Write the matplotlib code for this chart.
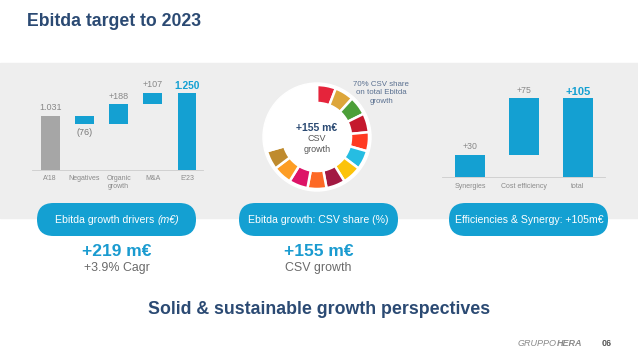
import matplotlib
matplotlib.use("Agg")
import matplotlib.pyplot as plt
from matplotlib.patches import Rectangle, FancyBboxPatch, Circle

plt.rcParams['font.family'] = ['Liberation Sans', 'DejaVu Sans']

# waterfall: ebitda growth drivers (m€)
wf_labels = ["A'18", "Negatives", "Organic\ngrowth", "M&A", "E'23"]
wf_values = [1031, -76, 188, 107, 1250]
wf_texts = ["1.031", "(76)", "+188", "+107", "1.250"]

# efficiencies & synergy (m€)
eff_labels = ["Synergies", "Cost efficiency", "total"]
eff_values = [30, 75, 105]
eff_texts = ["+30", "+75", "+105"]

# SDG ring: goals touched by CSV growth out of 17
sdg_colors = ['#E5243B', '#DDA63A', '#4C9F38', '#C5192D', '#FF3A21', '#26BDE2',
              '#FCC30B', '#A21942', '#FD6925', '#DD1367', '#FD9D24', '#BF8B2E']
total_goals = 17

pill_texts = ["Ebitda growth drivers ", "Ebitda growth: CSV share (%)", "Efficiencies & Synergy: +105m€"]

W, H = 638, 359
NAVY = '#2b4a73'
BLUE = '#14a0d2'
GREY = '#8a8a8a'


def px_rect(x0, y0, x1, y1):
    return [x0 / W, 1 - y1 / H, (x1 - x0) / W, (y1 - y0) / H]


fig = plt.figure(figsize=(W / 100, H / 100), dpi=100)
bg = fig.add_axes([0, 0, 1, 1])
bg.set_xlim(0, W)
bg.set_ylim(H, 0)
bg.axis('off')

bg.add_patch(Rectangle((0, 63), W, 155, color='#eeeeee', zorder=0))
bg.text(27, 22, "Ebitda target to 2023", fontsize=12.7, fontweight='bold', color=NAVY, va='center')

# --- waterfall
ax = fig.add_axes(px_rect(32, 80, 203, 170))
ax.patch.set_alpha(0)
bottoms, heights = [], []
level = 0
for i, v in enumerate(wf_values):
    if i == 0 or i == len(wf_values) - 1:
        bottoms.append(0)
        heights.append(v)
        level = v
    else:
        bottoms.append(min(level, level + v))
        heights.append(abs(v))
        level += v
colors = ['#a6a6a6'] + [BLUE] * (len(wf_values) - 1)
x = list(range(len(wf_values)))
ax.bar(x, heights, bottom=bottoms, width=0.55, color=colors)
ax.set_ylim(520, 1370)
ax.set_xlim(-0.53, 4.47)
for i, t in enumerate(wf_texts):
    top = bottoms[i] + heights[i]
    if wf_values[i] < 0:
        ax.annotate(t, (i, bottoms[i]), xytext=(0, -3), textcoords='offset points',
                    ha='center', va='top', fontsize=6.5, color='#777777')
    elif i == len(wf_texts) - 1:
        ax.annotate(t, (i, top), xytext=(0, 1), textcoords='offset points',
                    ha='center', va='bottom', fontsize=7.4, fontweight='bold', color=BLUE)
    else:
        ax.annotate(t, (i, top), xytext=(0, 2.5), textcoords='offset points',
                    ha='center', va='bottom', fontsize=6.5, color='#888888')
ax.set_xticks(x, wf_labels)
ax.tick_params(axis='x', length=0, labelsize=5, colors=GREY, pad=3.5)
ax.set_yticks([])
for s in ['top', 'left', 'right']:
    ax.spines[s].set_visible(False)
ax.spines['bottom'].set_color('#cccccc')
ax.spines['bottom'].set_linewidth(0.6)

# --- SDG donut
dax = fig.add_axes(px_rect(262, 82, 372, 192))
dax.add_patch(Circle((0, 0), 54, color='white', zorder=0))
ring_colors = sdg_colors + ['none'] * (total_goals - len(sdg_colors))
dax.pie([1] * total_goals, colors=ring_colors, radius=52, startangle=90, counterclock=False,
        wedgeprops=dict(width=18, edgecolor='white', linewidth=1.8))
dax.set_xlim(-55, 55)
dax.set_ylim(-55, 55)
dax.set_aspect('equal')
dax.axis('off')
# the donut axes sits at pixel center (317, 137)
dax.text(0, 9, "+155 m€", ha='center', va='center', fontsize=7.5, fontweight='bold', color=NAVY)
dax.text(0, -1, "CSV", ha='center', va='center', fontsize=6.5, color='#555555')
dax.text(0, -12, "growth", ha='center', va='center', fontsize=6.5, color='#555555')
bg.text(381, 93, "70% CSV share\non total Ebitda\ngrowth", ha='center', va='center',
        fontsize=5.7, color='#5a7090', linespacing=1.25)

# --- efficiencies bars
rax = fig.add_axes(px_rect(442, 87, 605, 177))
rax.patch.set_alpha(0)
rx = list(range(len(eff_values)))
rbottoms = [0, eff_values[0], 0]
rheights = [eff_values[0], eff_values[1], eff_values[2]]
rax.bar(rx, rheights, bottom=rbottoms, width=0.56, color=BLUE)
rax.set_ylim(0, 120)
rax.set_xlim(-0.52, 2.5)
for i, t in enumerate(eff_texts):
    top = rbottoms[i] + rheights[i]
    if i == len(eff_texts) - 1:
        rax.annotate(t, (i, top), xytext=(0, 1), textcoords='offset points',
                     ha='center', va='bottom', fontsize=8, fontweight='bold', color=BLUE)
    else:
        rax.annotate(t, (i, top), xytext=(0, 2.5), textcoords='offset points',
                     ha='center', va='bottom', fontsize=6.3, color='#888888')
rax.set_xticks(rx, eff_labels)
rax.tick_params(axis='x', length=0, labelsize=5, colors=GREY, pad=4)
rax.set_yticks([])
for s in ['top', 'left', 'right']:
    rax.spines[s].set_visible(False)
rax.spines['bottom'].set_color('#cccccc')
rax.spines['bottom'].set_linewidth(0.6)

# --- pills
pill_x = [37, 239, 449]
for px, t in zip(pill_x, pill_texts):
    bg.add_patch(FancyBboxPatch((px, 203), 159, 33, boxstyle="round,pad=0,rounding_size=16.5",
                                facecolor=BLUE, edgecolor='none', zorder=2))
bg.text(157, 220, pill_texts[0], ha='right', va='center', fontsize=7.6, color='white', zorder=3)
bg.text(157, 220, "(m€)", ha='left', va='center', fontsize=7.6, style='italic', color='white', zorder=3)
bg.text(318.5, 220, pill_texts[1], ha='center', va='center', fontsize=7.6, color='white', zorder=3)
bg.text(529.5, 220, pill_texts[2], ha='center', va='center', fontsize=7.6, color='white', zorder=3)

bg.text(116.5, 251, "+219 m€", ha='center', va='center', fontsize=12.5, fontweight='bold', color='#1a9bd0')
bg.text(116.5, 268, "+3.9% Cagr", ha='center', va='center', fontsize=8.9, color='#6a6a6a')
bg.text(318.5, 251, "+155 m€", ha='center', va='center', fontsize=12.5, fontweight='bold', color='#1a9bd0')
bg.text(318.5, 268, "CSV growth", ha='center', va='center', fontsize=8.9, color='#6a6a6a')

bg.text(319, 310, "Solid & sustainable growth perspectives", ha='center', va='center',
        fontsize=12.8, fontweight='bold', color=NAVY)

bg.text(557, 344, "GRUPPO", ha='right', va='center', fontsize=6.5, style='italic', color='#8a8a8a')
bg.text(557, 344, "HERA", ha='left', va='center', fontsize=6.5, style='italic', fontweight='bold', color='#8a8a8a')
bg.text(607, 343, "06", ha='center', va='center', fontsize=6.5, fontweight='bold', color='#555555')

fig.savefig("out.png", dpi=100)
